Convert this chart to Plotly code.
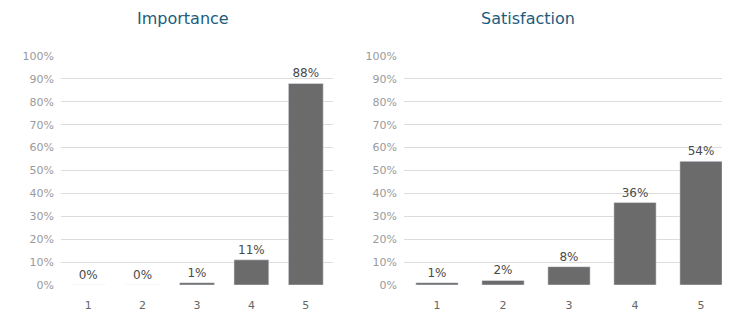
import plotly.graph_objects as go

categories = ["1", "2", "3", "4", "5"]
importance = [0.00, 0.00, 0.01, 0.11, 0.88]
satisfaction = [0.01, 0.02, 0.08, 0.36, 0.54]
importance_labels = ["0%", "0%", "1%", "11%", "88%"]
satisfaction_labels = ["1%", "2%", "8%", "36%", "54%"]
tick_vals = [i / 10 for i in range(11)]
tick_text = [f"{i*10}%" for i in range(11)]

BAR = "#6b6b6b"
FONT = "DejaVu Sans, sans-serif"
W, H = 730, 317
OFF = 8  # page body margin


def px(x):
    return (x - OFF) / W


def py(y):
    return 1 - (y - OFF) / H


fig = go.Figure()
for ax, vals, labels in [("", importance, importance_labels), ("2", satisfaction, satisfaction_labels)]:
    fig.add_trace(go.Bar(x=categories, y=vals, text=labels,
                         textposition="outside", marker_color=BAR,
                         xaxis="x" + ax, yaxis="y" + ax,
                         textfont=dict(color="#4a4a4a", size=12, family=FONT),
                         cliponaxis=False, width=0.64))

yax = dict(range=[0, 1], tickvals=tick_vals, ticktext=tick_text, showgrid=True,
           gridcolor="#dcdcdc", gridwidth=1, zeroline=False, showline=False,
           tickfont=dict(color="#9a9a9a", size=11, family=FONT), ticks="",
           ticklabelstandoff=6, domain=[py(285), py(56)])
xax = dict(showgrid=False, zeroline=False, showline=False, ticks="",
           ticklabelstandoff=12,
           tickfont=dict(color="#666666", size=11, family=FONT))

fig.update_layout(
    width=W, height=H, plot_bgcolor="white", paper_bgcolor="white",
    margin=dict(l=0, r=0, t=0, b=0, autoexpand=False), showlegend=False,
    xaxis=dict(xax, domain=[px(61), px(333)], anchor="y"),
    yaxis=dict(yax, anchor="x"),
    xaxis2=dict(xax, domain=[px(404), px(734)], anchor="y2"),
    yaxis2=dict(yax, anchor="x2"),
    annotations=[
        dict(text="Importance", x=px(183), y=1, xref="paper", yref="paper",
             xanchor="center", yanchor="top", borderpad=0,
             showarrow=False, font=dict(color="#1b5c7e", size=16, family=FONT)),
        dict(text="Satisfaction", x=px(528), y=1, xref="paper", yref="paper",
             xanchor="center", yanchor="top", borderpad=0,
             showarrow=False, font=dict(color="#1b5c7e", size=16, family=FONT)),
    ],
)

fig.write_html("out.html")
